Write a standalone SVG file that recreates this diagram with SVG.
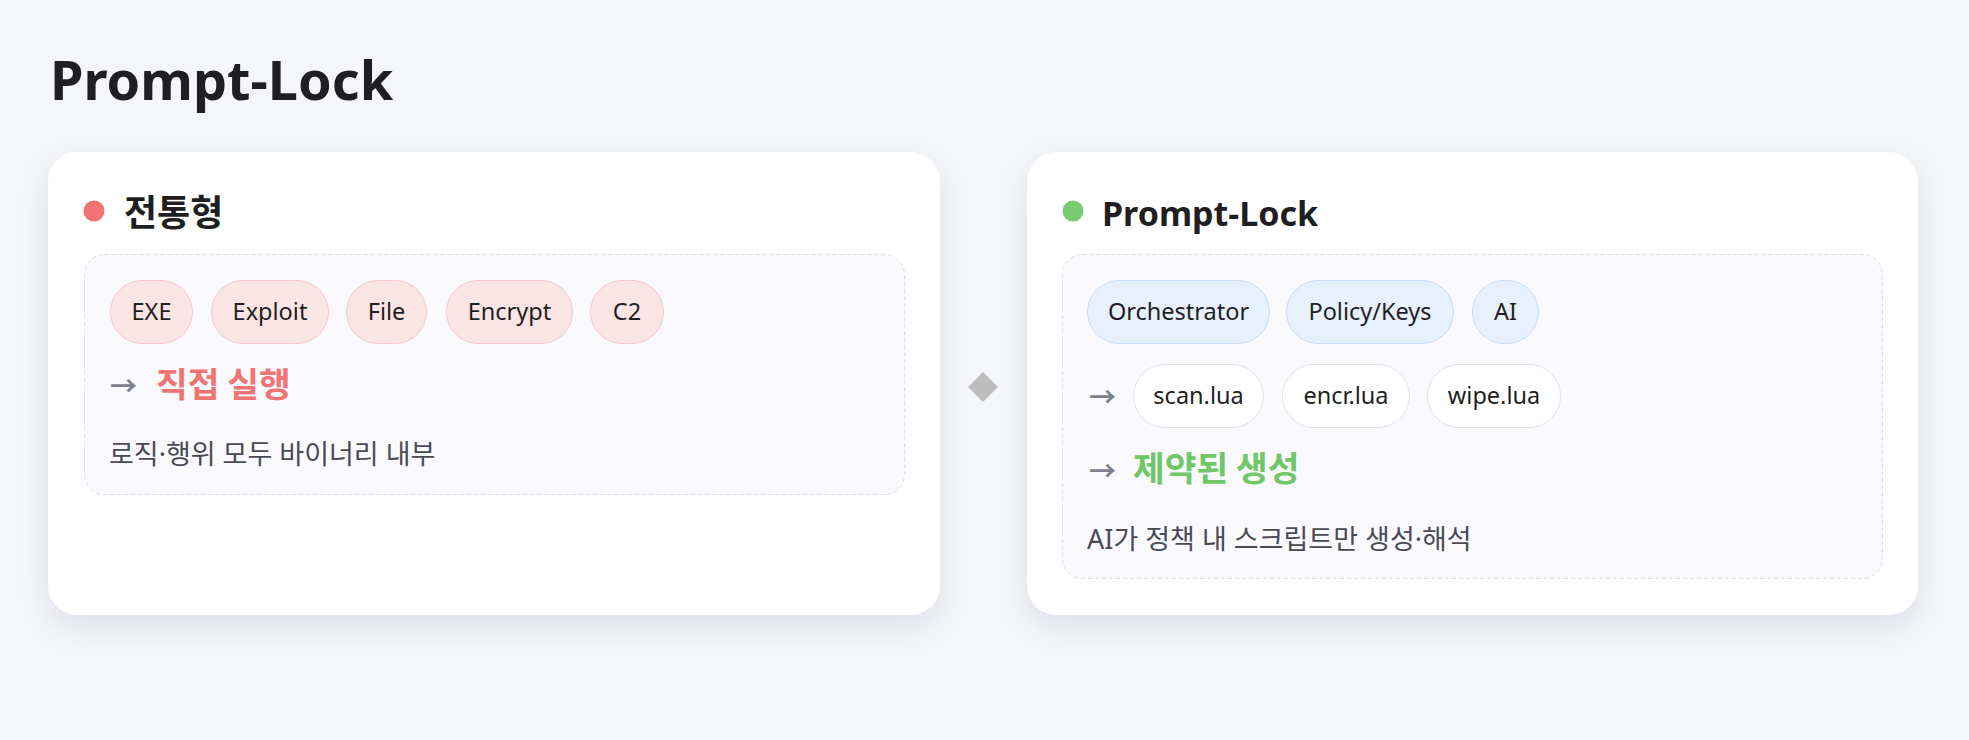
<svg xmlns="http://www.w3.org/2000/svg" width="1969" height="740" viewBox="0 0 1969 740">
<defs>
<filter id="shadow" x="-10%" y="-10%" width="120%" height="130%">
<feDropShadow dx="0" dy="12" stdDeviation="14" flood-color="#1e2846" flood-opacity="0.09"/>
</filter>
<style>
.card{fill:#ffffff;filter:url(#shadow);}
.panel{fill:#f9f9fe;stroke:#dcdce6;stroke-width:1;stroke-dasharray:4 3;}
.txt{font-family:"Noto Sans","Noto Sans CJK KR",sans-serif;}
.kr{font-family:"Noto Sans CJK KR","Noto Sans",sans-serif;}
.title{font-size:54px;font-weight:700;fill:#1f1f22;}
.head{font-weight:700;fill:#1f1f22;}
.chipR{fill:#fbe4e4;stroke:#f5c9c9;stroke-width:1;}
.chipB{fill:#e7f0fd;stroke:#c9dcf7;stroke-width:1;}
.chipW{fill:#ffffff;stroke:#e2e2ee;stroke-width:1;}
.chipT{font-size:23.5px;fill:#1f1f22;text-anchor:middle;}
.arrow{font-size:27px;font-weight:700;fill:#80808f;}
.big{font-size:34.5px;font-weight:700;}
.desc{font-size:27px;fill:#4a4a55;}
</style>
</defs>
<rect x="0" y="0" width="1969" height="740" fill="#f5f6fa"/>
<text class="txt title" x="50" y="100">Prompt-Lock</text>

<g id="card-traditional">
<rect class="card" x="48" y="152" width="892" height="463" rx="30"/>
<circle cx="94" cy="211" r="10.5" fill="#ef7472"/>
<text class="kr head" x="124" y="226" font-size="36">전통형</text>
<rect class="panel" x="84.5" y="254.5" width="820" height="240" rx="20"/>
<g id="chip-exe"><rect class="chipR" x="110.5" y="280.5" width="82" height="63" rx="31.5"/><text class="txt chipT" x="151.5" y="320">EXE</text></g>
<g id="chip-exploit"><rect class="chipR" x="211.5" y="280.5" width="117" height="63" rx="31.5"/><text class="txt chipT" x="270" y="320">Exploit</text></g>
<g id="chip-file"><rect class="chipR" x="346.5" y="280.5" width="80" height="63" rx="31.5"/><text class="txt chipT" x="386.5" y="320">File</text></g>
<g id="chip-encrypt"><rect class="chipR" x="446.5" y="280.5" width="126" height="63" rx="31.5"/><text class="txt chipT" x="509.5" y="320">Encrypt</text></g>
<g id="chip-c2"><rect class="chipR" x="590.5" y="280.5" width="73" height="63" rx="31.5"/><text class="txt chipT" x="627" y="320">C2</text></g>
<text class="txt arrow" x="110" y="396">→</text>
<text class="kr big" x="156" y="397" fill="#ef7472">직접 실행</text>
<text class="txt desc" x="109" y="464">로직·행위 모두 바이너리 내부</text>
</g>

<g id="connectors">
<path d="M983 372 L998 387 L983 402 L968 387 Z" fill="#bdbdbd"/>
</g>

<g id="card-promptlock">
<rect class="card" x="1027" y="152" width="891" height="463" rx="30"/>
<circle cx="1073" cy="211" r="10.5" fill="#78cb70"/>
<text class="txt head" x="1102" y="226" font-size="34">Prompt-Lock</text>
<rect class="panel" x="1062.5" y="254.5" width="820" height="324" rx="20"/>
<g id="chip-orchestrator"><rect class="chipB" x="1087.5" y="280.5" width="182" height="63" rx="31.5"/><text class="txt chipT" x="1178.5" y="320">Orchestrator</text></g>
<g id="chip-policy"><rect class="chipB" x="1286.5" y="280.5" width="167" height="63" rx="31.5"/><text class="txt chipT" x="1370" y="320">Policy/Keys</text></g>
<g id="chip-ai"><rect class="chipB" x="1472.5" y="280.5" width="66" height="63" rx="31.5"/><text class="txt chipT" x="1505.5" y="320">AI</text></g>
<text class="txt arrow" x="1089" y="407">→</text>
<g id="chip-scan"><rect class="chipW" x="1133.5" y="364.5" width="130" height="63" rx="31.5"/><text class="txt chipT" x="1198.5" y="404">scan.lua</text></g>
<g id="chip-encr"><rect class="chipW" x="1282.5" y="364.5" width="127" height="63" rx="31.5"/><text class="txt chipT" x="1346" y="404">encr.lua</text></g>
<g id="chip-wipe"><rect class="chipW" x="1427.5" y="364.5" width="133" height="63" rx="31.5"/><text class="txt chipT" x="1494" y="404">wipe.lua</text></g>
<text class="txt arrow" x="1089" y="481">→</text>
<text class="kr big" x="1133" y="481" fill="#6fc767">제약된 생성</text>
<text class="txt desc" x="1087" y="549">AI가 정책 내 스크립트만 생성·해석</text>
</g>
</svg>
